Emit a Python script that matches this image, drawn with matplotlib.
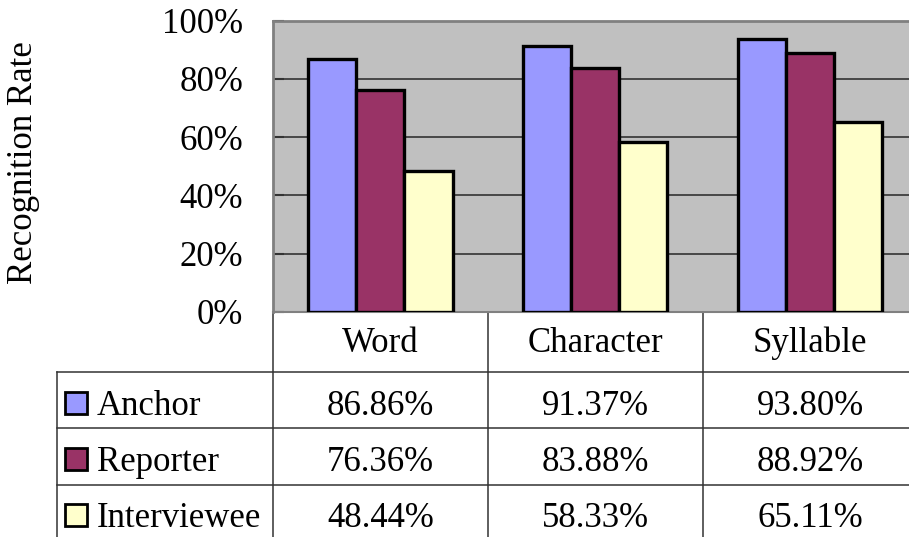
import matplotlib
matplotlib.use("Agg")
import matplotlib.pyplot as plt
from matplotlib.patches import Rectangle
import numpy as np

plt.rcParams['font.family'] = ['Liberation Serif', 'DejaVu Serif']

categories = ["Word", "Character", "Syllable"]
series_names = ["Anchor", "Reporter", "Interviewee"]
anchor = [86.86, 91.37, 93.80]
reporter = [76.36, 83.88, 88.92]
interviewee = [48.44, 58.33, 65.11]
series_values = [anchor, reporter, interviewee]
colors = ["#9999FF", "#993366", "#FFFFCC"]
ytick_values = [0, 20, 40, 60, 80, 100]
ytick_labels = ["0%", "20%", "40%", "60%", "80%", "100%"]

W, H = 909, 537
fig = plt.figure(figsize=(W / 100, H / 100), dpi=100)

# axes geometry in pixels
ax_l, ax_r, ax_t, ax_b = 273, 917.5, 20.7, 312
ax = fig.add_axes([ax_l / W, 1 - ax_b / H, (ax_r - ax_l) / W, (ax_b - ax_t) / H])
ax.set_facecolor("#C0C0C0")
ax.set_xlim(0, len(categories))
ax.set_ylim(0, 100)

FS = 25
bw = 48 / 214.5
x = np.arange(len(categories)) + 0.5
for i, (vals, c) in enumerate(zip(series_values, colors)):
    ax.bar(x + (i - 1) * bw, vals, width=bw, color=c, edgecolor="black",
           linewidth=2.4, zorder=3)

ax.set_yticks(ytick_values)
ax.set_yticklabels(ytick_labels, fontsize=FS)
ax.yaxis.grid(True, color="#333333", linewidth=1.2, zorder=1)
ax.set_axisbelow(True)
ax.tick_params(axis="y", direction="in", length=8, width=1.5, color="#333333", pad=21.5)
ax.tick_params(axis="x", length=0, labelbottom=False)
for s in ["top", "left"]:
    ax.spines[s].set_color("#808080")
    ax.spines[s].set_linewidth(2)
ax.spines["right"].set_visible(False)
ax.spines["bottom"].set_color("#808080")
ax.spines["bottom"].set_linewidth(1.5)

fig.text(24 / W, 1 - 163 / H, "Recognition Rate", rotation=90, fontsize=FS,
         ha="center", va="center")

# data table below the axes
tr = ax.get_xaxis_transform()
plot_h = ax_b - ax_t
def yax(pix):
    return (ax_b - pix) / plot_h

col_w = 214.5
x_left = (57 - ax_l) / col_w
row_lines = [372, 428, 485]
bottom = 545
lc = "#333333"
lw = 1.1

# vertical lines
for k in range(len(categories) + 1):
    ax.plot([k, k], [yax(ax_b), yax(bottom)], color=lc, lw=lw, transform=tr, clip_on=False)
ax.plot([x_left, x_left], [yax(row_lines[0]), yax(bottom)], color=lc, lw=lw,
        transform=tr, clip_on=False)
# horizontal lines
for rp in row_lines:
    ax.plot([x_left, len(categories) + 0.1], [yax(rp), yax(rp)], color=lc, lw=lw,
            transform=tr, clip_on=False)

# header
for xi, cat in zip(x, categories):
    ax.text(xi, yax(352), cat, fontsize=FS, ha="center", va="baseline", transform=tr,
            clip_on=False)

row_baselines = [415, 471, 527]
for r, (name, vals, c) in enumerate(zip(series_names, series_values, colors)):
    yb = row_baselines[r]
    sq = 22
    ax.add_patch(Rectangle(((65 - ax_l) / col_w, yax(yb - 1)), sq / col_w,
                           sq / plot_h, transform=tr, facecolor=c, edgecolor="black",
                           linewidth=2, clip_on=False))
    ax.text((97 - ax_l) / col_w, yax(yb), name, fontsize=FS, ha="left", va="baseline",
            transform=tr, clip_on=False)
    for xi, v in zip(x, vals):
        ax.text(xi, yax(yb), f"{v:.2f}%", fontsize=FS, ha="center", va="baseline",
                transform=tr, clip_on=False)

fig.savefig("out.png", dpi=100)
